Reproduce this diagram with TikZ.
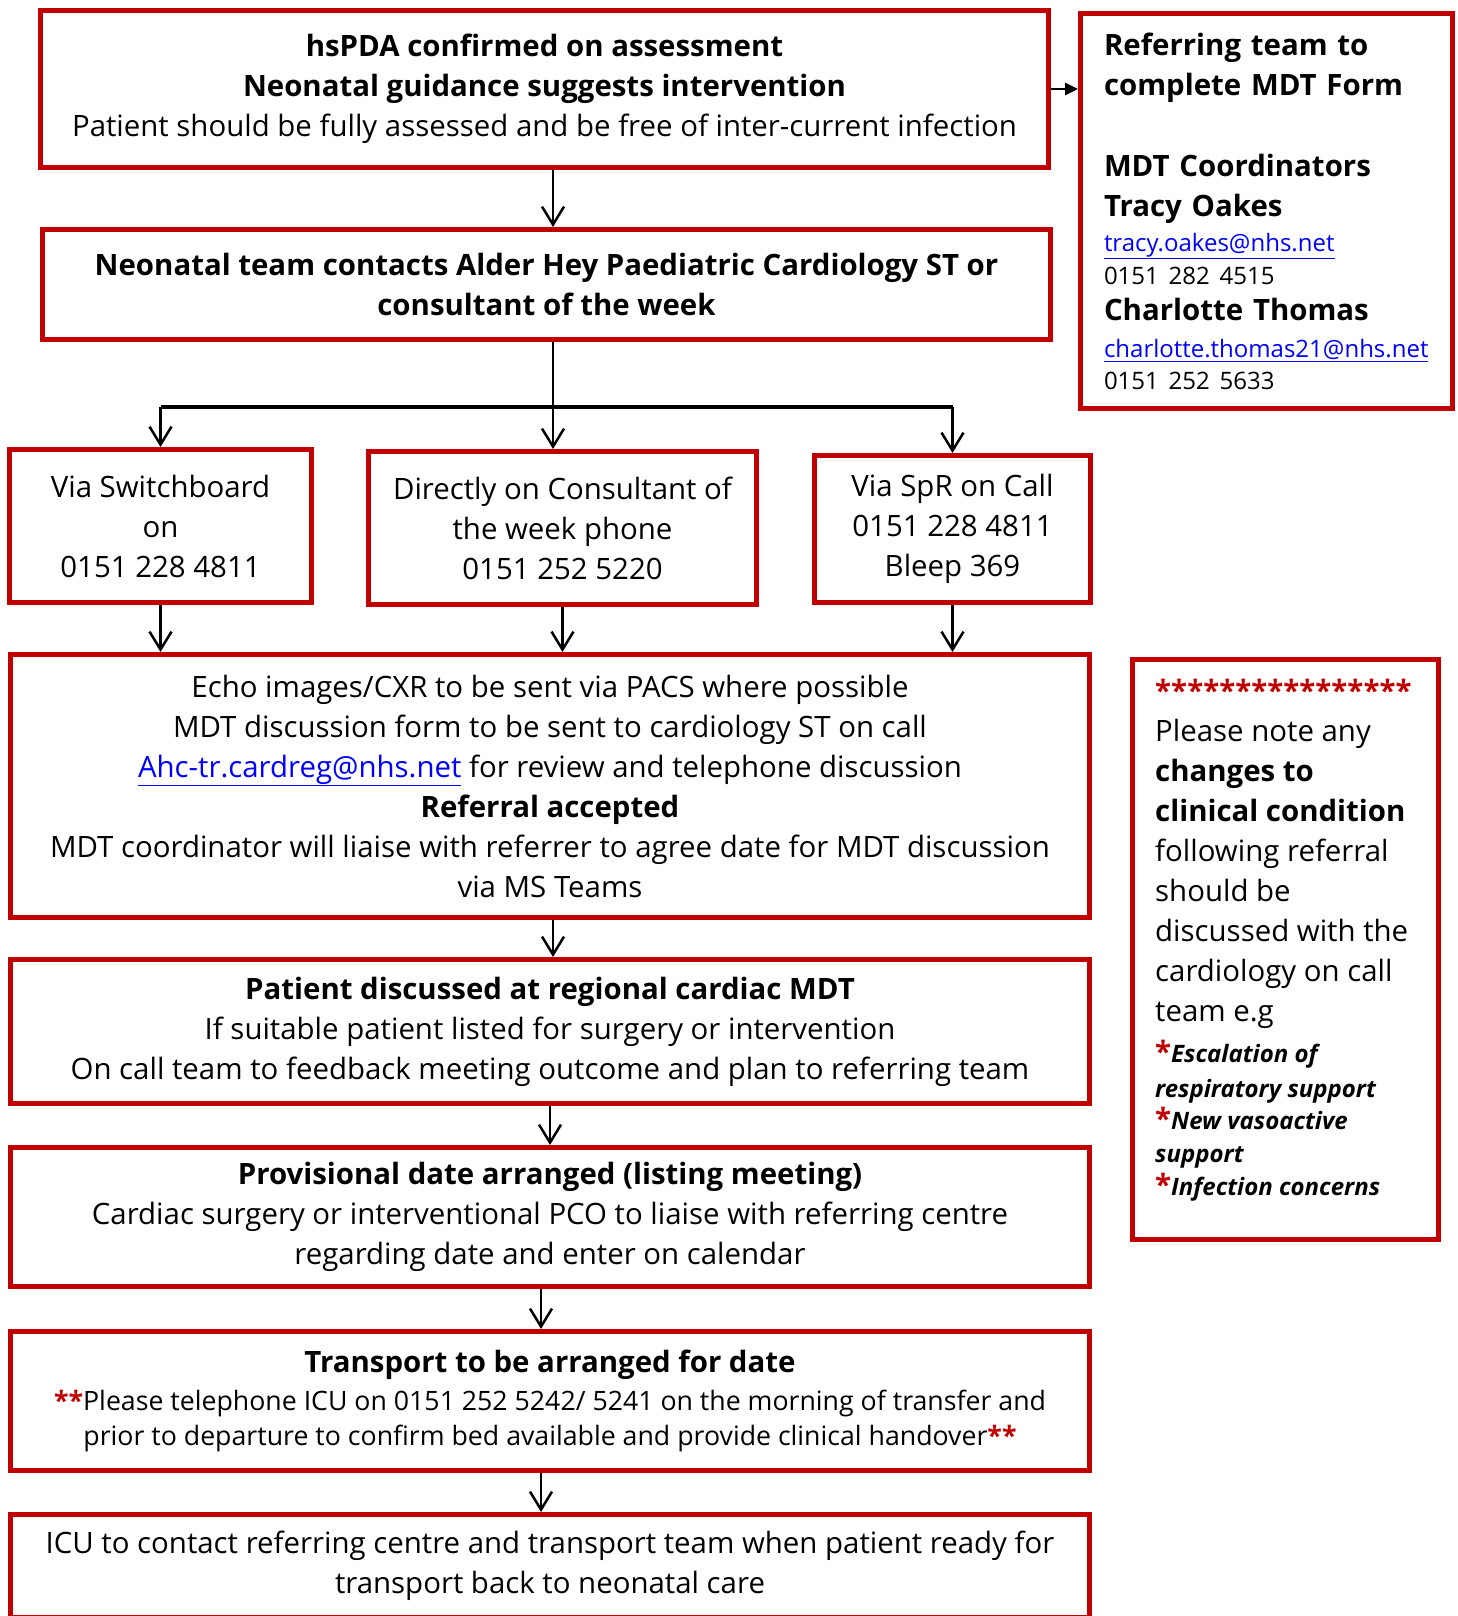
\documentclass[tikz,border=0pt]{standalone}
\usepackage{fontspec}
\setmainfont{Open Sans}
\usetikzlibrary{arrows.meta}
\definecolor{boxred}{RGB}{192,0,0}
\definecolor{linkblue}{RGB}{0,0,255}
\newcommand{\maillink}[1]{\textcolor{linkblue}{\underline{#1}}}
\newcommand{\redstar}[1]{\textcolor{boxred}{\textbf{#1}}}
\newcommand{\smallsz}{\fontsize{24}{34}\selectfont}
\newcommand{\callsz}{\fontsize{26.7}{36}\selectfont}

\begin{document}
\begin{tikzpicture}[x=1pt,y=-1pt,
    box/.style={draw=boxred,line width=5pt,align=center,inner sep=0pt,
      font=\fontsize{29.4}{40}\selectfont},
    arr/.style={line width=2.5pt,
      -{Straight Barb[length=18pt,width=22pt,line width=2.5pt]}},
    tip/.style={line width=2.5pt,-{Triangle[length=13pt,width=12pt]}}]
  \useasboundingbox[fill=white] (0,0) rectangle (1458,1616);

  % main column
  \node[box,minimum width=1008,minimum height=157] (assess) at (544.5,89)
    {\textbf{hsPDA confirmed on assessment}\\
     \textbf{Neonatal guidance suggests intervention}\\
     Patient should be fully assessed and be free of inter-current infection};
  \node[box,minimum width=1008,minimum height=110] (contact) at (546.5,284.5)
    {\textbf{Neonatal team contacts Alder Hey Paediatric Cardiology ST or}\\
     \textbf{consultant of the week}};

  % three ways to call
  \node[box,minimum width=302,minimum height=153] (switch) at (160.5,526)
    {Via Switchboard\\on\\0151 228 4811};
  \node[box,minimum width=388,minimum height=153] (direct) at (562.5,528)
    {Directly on Consultant of\\the week phone\\0151 252 5220};
  \node[box,minimum width=276,minimum height=147] (spr) at (952.5,529)
    {Via SpR on Call\\0151 228 4811\\Bleep 369};

  \node[box,minimum width=1079,minimum height=263] (echo) at (550,786)
    {Echo images/CXR to be sent via PACS where possible\\
     MDT discussion form to be sent to cardiology ST on call\\
     \maillink{Ahc-tr.cardreg@nhs.net} for review and telephone discussion\\
     \textbf{Referral accepted}\\
     MDT coordinator will liaise with referrer to agree date for MDT discussion\\
     via MS Teams};
  \node[box,minimum width=1079,minimum height=144] (mdt) at (550,1031.5)
    {\textbf{Patient discussed at regional cardiac MDT}\\
     If suitable patient listed for surgery or intervention\\
     On call team to feedback meeting outcome and plan to referring team};
  \node[box,minimum width=1079,minimum height=139] (listing) at (550,1217)
    {\textbf{Provisional date arranged (listing meeting)}\\
     Cardiac surgery or interventional PCO to liaise with referring centre\\
     regarding date and enter on calendar};
  \node[box,minimum width=1079,minimum height=139] (transport) at (550,1401)
    {\textbf{Transport to be arranged for date}\\[-2pt]
     {\callsz\redstar{**}Please telephone ICU on 0151 252 5242/ 5241 on the morning of transfer and}\\[-5pt]
     {\callsz prior to departure to confirm bed available and provide clinical handover\redstar{**}}};
  \node[box,minimum width=1079,minimum height=103] (icu) at (550,1566)
    {ICU to contact referring centre and transport team when patient ready for\\
     transport back to neonatal care};

  % side boxes
  \node[box,align=left,minimum width=372,minimum height=394,text width=325,
    inner xsep=23.5] (form) at (1266.5,211)
    {\textbf{Referring team to}\\
     \textbf{complete MDT Form}\\[41pt]
     \textbf{MDT Coordinators}\\
     \textbf{Tracy Oakes}\\[-5pt]
     {\smallsz\maillink{tracy.oakes@nhs.net}}\\[-7pt]
     {\smallsz 0151 282 4515}\\[-4pt]
     \textbf{Charlotte Thomas}\\[-3pt]
     {\smallsz\maillink{charlotte.thomas21@nhs.net}}\\[-8pt]
     {\smallsz 0151 252 5633}};
  \node[box,minimum width=306,minimum height=580] (note) at (1285.5,949.5) {};
  \node[anchor=north west,align=left,inner sep=0pt,
    font=\fontsize{29.4}{40}\selectfont] (notetext) at (1155,679)
    {\redstar{****************}\\
     Please note any\\
     \textbf{changes to}\\
     \textbf{clinical condition}\\
     following referral\\
     should be\\
     discussed with the\\
     cardiology on call\\
     team e.g\\[1pt]
     {\redstar{*}\smallsz\textbf{\textit{Escalation of}}}\\[-5pt]
     {\smallsz\textbf{\textit{respiratory support}}}\\[-8pt]
     {\redstar{*}\smallsz\textbf{\textit{New vasoactive}}}\\[-7pt]
     {\smallsz\textbf{\textit{support}}}\\[-7pt]
     {\redstar{*}\smallsz\textbf{\textit{Infection concerns}}}};

  % connectors
  \coordinate (split) at (553,407);
  \draw[tip] (assess.east) -- (form.west |- assess.east);
  \draw[arr] (assess.south -| split) -- (contact.north -| split);
  \draw[line width=2.5pt] (contact.south -| split) -- (split);
  \draw[arr] (split) -- (split |- direct.north);
  \draw[line width=3.5pt] (switch.north |- split) -- (spr.north |- split);
  \draw[arr] (switch.north |- split) -- (switch.north);
  \draw[arr] (spr.north |- split) -- (spr.north);
  \draw[arr] (switch.south) -- (switch.south |- echo.north);
  \draw[arr] (direct.south) -- (direct.south |- echo.north);
  \draw[arr] (spr.south) -- (spr.south |- echo.north);
  \draw[arr] (echo.south -| split) -- (mdt.north -| split);
  \draw[arr] (mdt.south) -- (listing.north);
  \draw[arr] ([xshift=-9pt]listing.south) -- ([xshift=-9pt]transport.north);
  \draw[arr] ([xshift=-9pt]transport.south) -- ([xshift=-9pt]icu.north);
\end{tikzpicture}
\end{document}
